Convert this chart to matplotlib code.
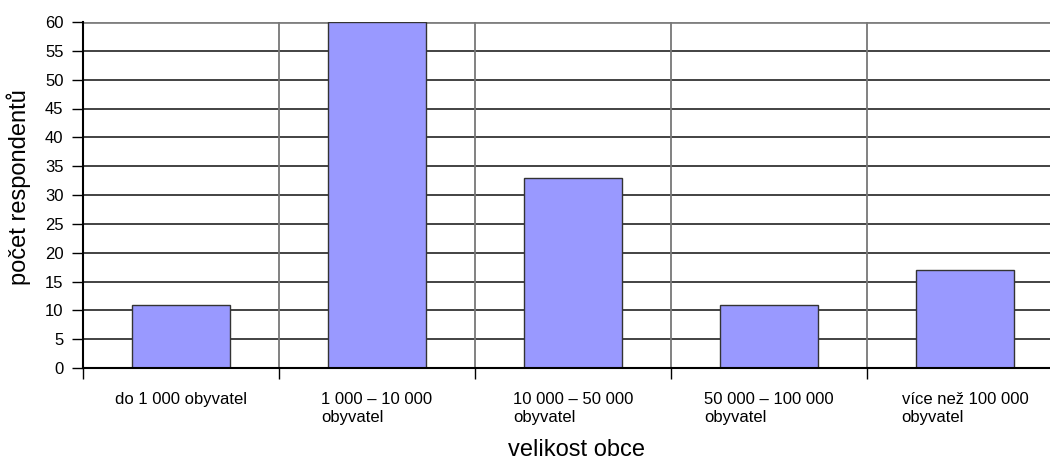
import matplotlib
matplotlib.use("Agg")
import matplotlib.pyplot as plt
import numpy as np

categories = ["do 1 000 obyvatel", "1 000 – 10 000\nobyvatel", "10 000 – 50 000\nobyvatel",
              "50 000 – 100 000\nobyvatel", "více než 100 000\nobyvatel"]
values = [11, 60, 33, 11, 17]
yticks = list(range(0, 61, 5))

plt.rcParams['font.family'] = ['Liberation Sans', 'DejaVu Sans']
W, H = 1050, 459
L, R, T, B = 83, 1063, 22, 368
fig = plt.figure(figsize=(W/100, H/100), dpi=100)
ax = fig.add_axes([L/W, (H-B)/H, (R-L)/W, (B-T)/H])

x = np.arange(len(categories))
ax.bar(x, values, width=0.5, color='#9999FF', edgecolor='#333333', linewidth=1, zorder=3)
ax.set_xlim(-0.5, len(categories)-0.5)
ax.set_ylim(0, 60)
ax.set_yticks(yticks)
ax.tick_params(axis='y', labelsize=12, length=8, width=1, direction='out', pad=6, colors='black')
for t in yticks[1:]:
    ax.axhline(t, color='#222222' if t < 60 else '#808080', linewidth=1.2 if t < 60 else 2, zorder=1)
for b in np.arange(0.5, len(categories)-0.5, 1):
    ax.axvline(b, color='#777777', linewidth=1.3, zorder=1)
ax.set_xticks(np.arange(-0.5, len(categories), 1))
ax.set_xticklabels([])
ax.tick_params(axis='x', length=8, width=1, direction='out', colors='black')
catw = (R - L) / len(categories)
for i, c in enumerate(categories):
    fig.text((L + catw*(i+0.5))/W, 1-392/H, c, ha='center', va='top', multialignment='left',
             fontsize=12, linespacing=1.25)
for s in ['top', 'right']:
    ax.spines[s].set_visible(False)
ax.spines['left'].set_linewidth(1.5)
ax.spines['bottom'].set_linewidth(1.5)
ax.spines['left'].set_zorder(4)
ax.spines['bottom'].set_zorder(4)
fig.text(19/W, 1-187/H, "počet respondentů", rotation=90, ha='center', va='center', fontsize=17)
fig.text(577/W, 1-450/H, "velikost obce", ha='center', va='center', fontsize=17)
fig.savefig("out.png", dpi=100)
